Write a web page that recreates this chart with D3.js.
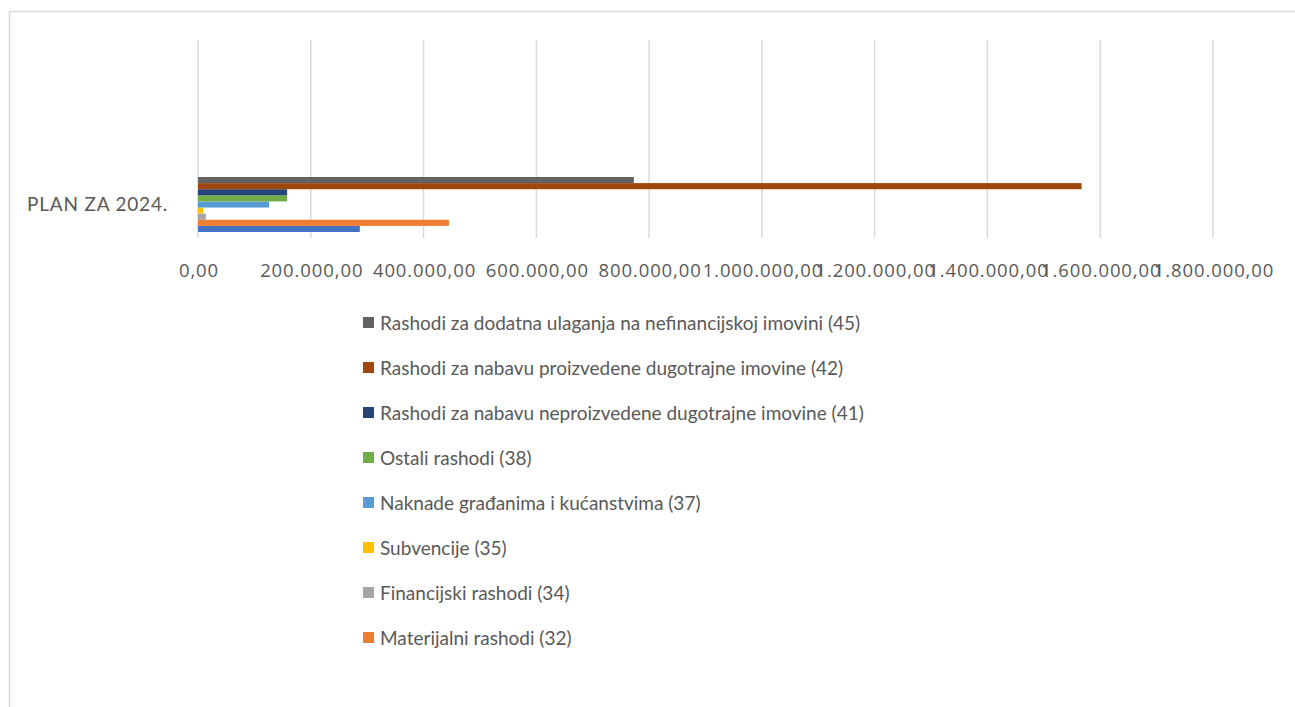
<!DOCTYPE html>
<html>
<head>
<meta charset="utf-8">
<script src="https://cdn.jsdelivr.net/npm/d3@7"></script>
<style>
  html, body { margin: 0; padding: 0; background: #fff; }
  svg { display: block; }
  text { font-family: Lato, "Open Sans", sans-serif; fill: #595959; }
</style>
</head>
<body>
<svg id="chart" width="1295" height="707"></svg>
<script>
const categories = ["PLAN ZA 2024."];
const seriesNames = [
  "Rashodi za zaposlene (31)",
  "Materijalni rashodi (32)",
  "Financijski rashodi (34)",
  "Subvencije (35)",
  "Naknade građanima i kućanstvima (37)",
  "Ostali rashodi (38)",
  "Rashodi za nabavu neproizvedene dugotrajne imovine (41)",
  "Rashodi za nabavu proizvedene dugotrajne imovine (42)",
  "Rashodi za dodatna ulaganja na nefinancijskoj imovini (45)"
];
const seriesValues = [287000, 445000, 14000, 9000, 126000, 158000, 158000, 1567000, 773000];
const seriesColors = ["#4472C4", "#ED7D31", "#A5A5A5", "#FFC000", "#5B9BD5", "#70AD47", "#264478", "#9E480E", "#636363"];
const tickValues = [0, 200000, 400000, 600000, 800000, 1000000, 1200000, 1400000, 1600000, 1800000];
// legend shows the last 8 series (first series is cut off in the original)
const legendSeries = seriesNames.slice(1).reverse();

const svg = d3.select("#chart");
const fmt = d3.formatLocale({decimal: ",", thousands: ".", grouping: [3], currency: ["", ""]}).format(",.2f");

// chart border (top and left visible)
svg.append("rect").attr("x", 9.5).attr("y", 11.5).attr("width", 1400).attr("height", 800)
  .attr("fill", "none").attr("stroke", "#d9d9d9").attr("stroke-width", 1.5);

const plotTop = 40, plotBottom = 238;
const x = d3.scaleLinear().domain([0, 1800000]).range([198, 1213]);

// gridlines
svg.append("g").selectAll("line").data(tickValues).join("line")
  .attr("x1", d => x(d)).attr("x2", d => x(d))
  .attr("y1", plotTop).attr("y2", plotBottom)
  .attr("stroke", "#d9d9d9").attr("stroke-width", 1.5);

// axis labels
const xAxis = d3.axisBottom(x).tickValues(tickValues).tickFormat(fmt).tickSize(0).tickPadding(0);
const gx = svg.append("g").attr("transform", `translate(0,${plotBottom + 26})`).call(xAxis);
gx.select(".domain").remove();
gx.selectAll("text").attr("font-size", 18.5).attr("fill", "#595959")
  .attr("letter-spacing", 0.9).attr("dx", 0.5)
  .style("font-family", "'Open Sans', Lato, sans-serif");

// bars
const y = d3.scaleBand().domain(categories).range([177, 232]);
const inner = d3.scaleBand().domain(seriesNames.slice().reverse()).range([0, y.bandwidth()]);
const rows = categories.flatMap(c => seriesNames.map((s, i) => ({cat: c, s, v: seriesValues[i], color: seriesColors[i]})));
svg.append("g").selectAll("rect").data(rows).join("rect")
  .attr("x", x(0))
  .attr("y", d => y(d.cat) + inner(d.s))
  .attr("width", d => x(d.v) - x(0))
  .attr("height", inner.bandwidth())
  .attr("fill", d => d.color);

// category label
svg.append("g").selectAll("text").data(categories).join("text")
  .attr("x", 168).attr("y", d => y(d) + y.bandwidth() / 2)
  .attr("dy", "0.35em").attr("text-anchor", "end").attr("font-size", 19)
  .attr("letter-spacing", 0.8)
  .text(d => d);

// legend
const lg = svg.append("g").selectAll("g").data(legendSeries).join("g")
  .attr("transform", (d, i) => `translate(363,${323 + i * 45})`);
lg.append("rect").attr("x", 0).attr("y", -6).attr("width", 11).attr("height", 11)
  .attr("fill", d => seriesColors[seriesNames.indexOf(d)]);
lg.append("text").attr("x", 17).attr("y", 0).attr("dy", "0.35em").attr("font-size", 19)
  .text(d => d);
</script>
</body>
</html>
